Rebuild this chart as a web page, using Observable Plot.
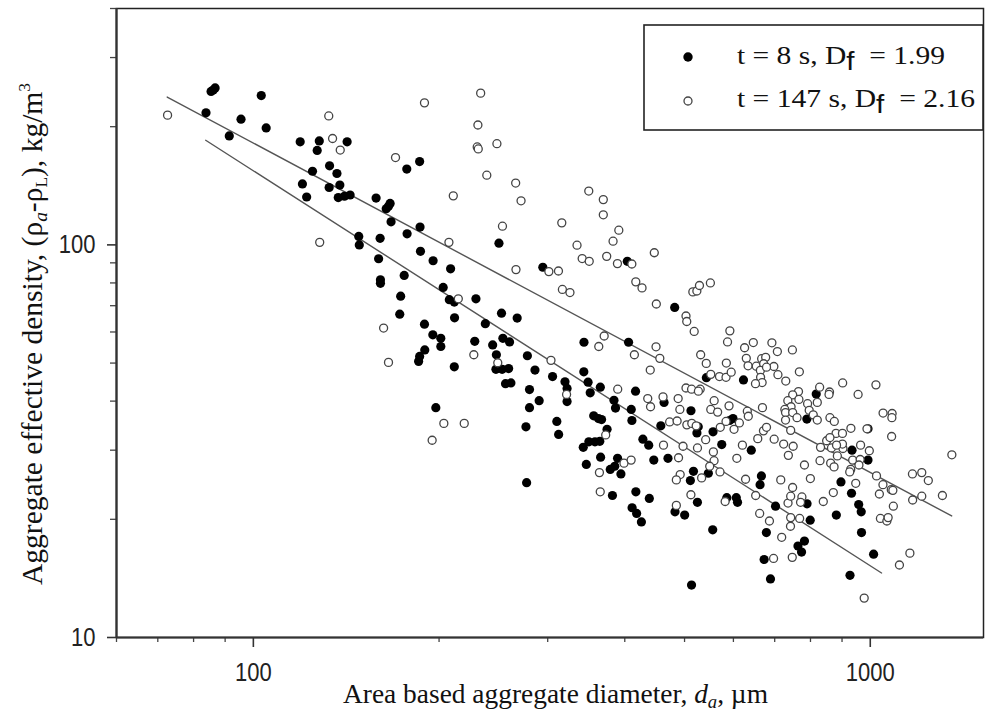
<!DOCTYPE html>
<html><head><meta charset="utf-8">
<script src="https://cdn.jsdelivr.net/npm/d3@7"></script>
<script src="https://cdn.jsdelivr.net/npm/@observablehq/plot@0.6"></script>
<style>
body{margin:0;background:#fff;}
#chart{width:985px;height:713px;}
</style></head><body><div id="chart"></div>
<script>
// t = 8 s (filled)
const t8Diameter = [83.8,85.4,86.1,86.7,91.4,95.5,103,104.9,119.1,127.9,
126.9,141.9,177.3,186,124.7,132.9,136.6,120.1,122,132.7,
138.1,137.3,140.5,143.5,158.1,164.2,165.6,166.6,167.2,186.3,
177.5,186.6,148.2,148.5,160.5,159.6,160.7,160.7,175.6,173.3,
172.7,189.4,195.6,208.8,203.1,207.8,211.7,229.5,211.9,252.5,
267.7,237.7,195.4,201.3,201.3,228.5,253.8,260.2,343.5,405.7,
189.6,186,185.3,211.7,244.3,247.7,247.3,253.1,259.3,256.3,
261.5,278.1,286.1,305.5,280.3,290.6,280.3,197.6,276.6,310.4,
312.5,277.3,343.3,320,322.5,348.8,351.6,365.1,416.4,384.2,
386.4,409.8,410.8,356.2,362.6,366.8,374.4,342.6,349.8,357.9,
364.4,346.5,365.5,389.4,385.3,378.9,394.3,382,416.9,438.4,
411.1,418.1,425.6,428,437.4,445.8,470,463.2,457.6,542.4,
623,512.1,526.2,523.6,556.1,591.4,599.1,574.5,641.4,516.9,
511,546.4,666.1,662.8,482.5,500.2,524.6,585.4,606.5,609.3,
702.2,555.4,678.6,672.9,689.1,513.2,817.3,789.3,934.1,991.6,
896.4,932.4,789.8,957.7,966.8,881,799.1,967.9,782.2,763.5,
773.8,1012.5,927.2,991.6,322.5,250.1,294.6,403.8,481.9];
const t8Density = [217,246,248,251,189.5,209,240,198.6,183,184,
174,183,156,163,154,159,152,143,132.4,140,
142,132,133,134,131.6,123.6,125.4,127.5,114.5,111,
106.7,96.3,105.1,100,103.9,92.2,81.5,79.8,83.6,74,
66.6,62.8,91.1,86.9,77.9,72.5,71.5,72.9,65.2,67,
65.1,63,59,57.8,55.1,56.8,57.8,56.6,56.5,56.5,
54,52,50.5,48.9,55.6,52.5,48.2,48.2,48.4,44.3,
44.5,52.2,48,46.2,42.8,40.1,38.5,38.5,34.4,35.5,
32.9,24.8,47.5,44.8,39.9,44.7,42,43.4,42.4,40.2,
38.4,38.1,35.7,36.7,36.1,35.9,33.9,30.5,31.5,31.5,
31.6,27.6,28.8,28.6,27.3,26.8,26.1,23,23.5,22.6,
21.4,20.7,19.7,32,30.9,28.3,28.6,39.7,34.6,45.9,
45.3,37.8,34.4,33.2,33.4,35.7,36.1,31,30,26.5,
25.1,26.2,25.8,24.5,20.9,20.5,22.1,22.7,22.7,22.1,
21.6,18.8,18.5,15.8,14.1,13.6,41.7,36,30,28.3,
24.9,23.3,21.9,21.8,20.9,20.5,19.9,18.5,17.6,17.1,
16.5,16.3,14.4,34,43.1,101,87.7,90.8,69.3];

// t = 147 s (open)
const t147Diameter = [72.6,132.5,134.4,138.3,170,128.1,162.6,189.4,233.6,231.2,
230.6,231.5,248.2,239,266.2,271.6,210.9,349.7,369.2,369.2,
391.2,382.9,316.2,334.7,253.4,207.5,266.5,301.3,312.3,341.2,
350.3,373.9,389.2,410.7,316.9,326,416.8,426.6,446.6,450,
502.7,504.1,518.3,515.7,523.5,528.6,550.6,214.9,370.4,165.6,
227.7,249,303.7,203.6,219.7,194.9,363,414.6,389.6,321.9,
372.5,398.8,409.6,363.9,365,449.5,455.9,439.9,592.1,587,
531,542.2,584.4,625.6,646.3,692.7,707,629.6,633.8,653.5,
666.7,676.8,671.7,697.8,663.6,664.1,667.9,651.5,708.5,729.5,
747.8,767.5,551.4,569.6,583.7,595.1,502.7,513.3,530,526.5,
435.8,440.4,461.4,488.2,491.3,558.4,551.4,565.7,590.3,632,
634.3,668.7,583.7,601.4,571.3,613.5,472.9,486.3,504.3,513.7,
541,497.2,488.9,462.2,524.7,556.8,558.2,549.2,570.7,607.7,620.5,
491.9,484.9,532.9,627.9,657.1,671.2,678.9,698.6,723.8,750,
736.6,716,484.9,512,581.8,652,735.7,743,748.4,774.8,
770.9,661.8,686.4,718.5,697,743,768.3,742.5,747.4,839.2,
871.2,947.2,1038.6,1064,1069,1090,1048.5,1081.6,1088,1034.6,
1170.5,1212,1242,1171.4,1212,1309,1356,1159.4,1115,977.6,
830.6,829,862.6,873.6,884.4,903.1,964.5,996.5,936.4,963,
958.6,929.6,926.2,782.2,799.7,1023.6,880.1,901.4,930.3,849.7,
860.3,987.8,1085,1049,1083,1084,901.4,865.2,881.7,902.1,
1021.4,955.6,827.8,858.9,857.3,765,748.6,735.1,744.1,727,
728.9,728.9,748.6,760.8,766.2,791.4,796.2,808.3,820.6,820.6,
860.3,874.4,743,678.9,522.2];
const t147Density = [214,213,186.6,174.4,166.9,101.5,61.4,230,243.5,202,
177.6,175.5,181,150.5,143.7,129.5,133.3,137.1,130.4,119.3,
109,102.2,113.8,99.8,111.6,101.5,86.5,85.5,85.8,92.3,
90.8,93.5,89.6,89.4,77,75.6,80.5,77.7,95.5,70.7,
65.9,63.8,60.2,75.9,76.3,78.8,80,72.9,58.6,50.2,
52.5,50.1,50.8,35.1,35.1,31.8,55.1,52.5,42.9,41.6,
32.8,27.8,28.3,26.3,23.5,55,51.4,48,60.4,56.6,
52.5,49.9,50,54.7,56.4,56.3,53.5,51.4,49.2,49.1,
51.3,51.7,49.8,49,47.9,46,44.6,44.3,46.7,45,
54,47.5,46.8,46.2,46,47.4,43.2,42.9,42.9,42.4,
40.6,38.7,41,40.6,38.1,40.1,38.1,37.5,38.9,37.7,
36.6,38.5,35.5,33.9,34.3,35.2,35.4,35.6,34.8,35.1,
31.9,30.7,28.7,30.9,30.4,29.7,28.2,27.3,26.4,28.6,30.9,
26,25.2,25.5,25.3,32.1,33.6,34.3,32,31.1,30.7,
29.1,25.2,21.7,23.1,22.2,23,22,22.9,24.1,22.8,
22.1,20.7,19.8,18,15.9,20.2,20.1,19.2,16,22.2,
23.4,24.7,20.1,19.8,20.2,21.6,24.5,23.8,23.7,23.2,
26.1,26.3,25.1,22.4,22.9,23,29.2,16.4,15.3,12.6,
30.5,28.2,27.8,27.2,29,30.3,30.9,29.9,28.3,28.4,
27.5,26.8,26.4,27.5,25.4,25.8,33.1,33.1,34.1,31.7,
32.3,34,37.2,37.3,32.5,36.3,31.1,30.4,30.9,44.5,
44,41.6,43.4,42.2,41.6,42.3,41.5,40.1,38.7,38.1,
37.4,35.8,37.4,36.3,40.4,39.4,37.9,36.9,39.7,35.8,
36.3,35.5,33.7,48.8,34.6];

// power-law fit lines (end points)
const fit8Diameter = [83.7, 1043];
const fit8Density = [184.7, 14.6];
const fit147Diameter = [72.5, 1355];
const fit147Density = [238, 20.4];

// ticks
const xMajorTicks = [100, 1000];
const xMinorTicks = [60, 70, 80, 90, 200, 300, 400, 500, 600, 700, 800, 900];
const yMajorTicks = [10, 100];
const yMinorTicks = [20, 30, 40, 50, 60, 70, 80, 90, 200, 300, 400];

const legendLabels = ["t = 8 s, D", "t = 147 s, D"];
const legendValues = ["= 1.99", "= 2.16"];

const filled = t8Diameter.map((d, i) => ({d, rho: t8Density[i]}));
const open = t147Diameter.map((d, i) => ({d, rho: t147Density[i]}));
const fit8 = fit8Diameter.map((d, i) => ({d, rho: fit8Density[i]}));
const fit147 = fit147Diameter.map((d, i) => ({d, rho: fit147Density[i]}));

const tickFont = "'Liberation Sans',Arial,sans-serif";
const serif = "'Liberation Serif','Times New Roman',serif";

const plot = Plot.plot({
  width: 985, height: 713,
  marginLeft: 116, marginRight: 2, marginTop: 8, marginBottom: 76,
  style: {background: "#fff", fontFamily: tickFont, color: "#222"},
  x: {type: "log", domain: [60, 1526]},
  y: {type: "log", domain: [10, 400]},
  marks: [
    Plot.frame({stroke: "#222", strokeWidth: 1.5}),
    Plot.axisX({ticks: xMinorTicks, tickSize: 5, tickFormat: () => "", label: null, stroke: "#444", strokeWidth: 1.3}),
    Plot.axisX({ticks: xMajorTicks, tickSize: 10, tickPadding: 16, tickFormat: d => String(d), label: null, fontSize: 25, fill: "#222", stroke: "#333", strokeWidth: 1.6}),
    Plot.axisY({ticks: yMinorTicks, tickSize: 6, tickFormat: () => "", label: null, stroke: "#444", strokeWidth: 1.3}),
    Plot.axisY({ticks: yMajorTicks, tickSize: 9, tickPadding: 12, tickFormat: d => String(d), label: null, fontSize: 25, textAnchor: "end", fill: "#222", stroke: "#333", strokeWidth: 1.6}),
    Plot.ruleY([10], {stroke: "#333", strokeWidth: 2.2}),
    Plot.ruleX([60], {stroke: "#333", strokeWidth: 2.2}),
    Plot.line(fit147, {x: "d", y: "rho", stroke: "#555", strokeWidth: 1.4}),
    Plot.line(fit8, {x: "d", y: "rho", stroke: "#555", strokeWidth: 1.4}),
    Plot.dot(filled, {x: "d", y: "rho", r: 4.6, fill: "#000", stroke: null}),
    Plot.dot(open, {x: "d", y: "rho", r: 4, fill: "#fff", stroke: "#444", strokeWidth: 1.3})
  ]
});

const svg = d3.select(plot);

// condense tick label glyphs horizontally (narrow sans look of the original)
svg.selectAll("text").each(function () {
  const t = d3.select(this);
  const s = t.text();
  if (s === "100" || s === "10" || s === "1000") {
    const x = +t.attr("x") || 0;
    const tr = t.attr("transform") || "";
    t.attr("stroke", "none");
    t.attr("transform", `${tr} translate(${x},0) scale(0.88,1) translate(${-x},0)`);
  }
});

// X axis title
const xt = svg.append("text").attr("x", 343).attr("y", 703)
  .attr("text-anchor", "start")
  .attr("textLength", 425).attr("lengthAdjust", "spacingAndGlyphs")
  .attr("font-family", serif).attr("font-size", 26.5).attr("fill", "#111");
xt.append("tspan").text("Area based aggregate diameter, ");
xt.append("tspan").attr("font-style", "italic").text("d");
xt.append("tspan").attr("font-style", "italic").attr("font-size", 18).attr("dy", 5).text("a");
xt.append("tspan").attr("dy", -5).text(", µm");

// Y axis title
const yt = svg.append("text").attr("transform", "translate(41.7,585) rotate(-90)")
  .attr("text-anchor", "start")
  .attr("textLength", 502).attr("lengthAdjust", "spacingAndGlyphs")
  .attr("font-family", serif).attr("font-size", 29).attr("fill", "#111");
yt.append("tspan").text("Aggregate effective density, (ρ");
yt.append("tspan").attr("font-style", "italic").attr("font-size", 19).attr("dy", 5).text("a");
yt.append("tspan").attr("dy", -5).text("-ρ");
yt.append("tspan").attr("font-size", 17).attr("dy", 5).text("L");
yt.append("tspan").attr("dy", -5).text("), kg/m");
yt.append("tspan").attr("font-size", 17).attr("dy", -12).text("3");

// Legend
const lg = svg.append("g");
lg.append("rect").attr("x", 644).attr("y", 25).attr("width", 339).attr("height", 105)
  .attr("fill", "#fff").attr("stroke", "#222").attr("stroke-width", 1.6);
lg.append("circle").attr("cx", 688).attr("cy", 57).attr("r", 4.7).attr("fill", "#000");
lg.append("circle").attr("cx", 688).attr("cy", 101).attr("r", 4).attr("fill", "#fff").attr("stroke", "#444").attr("stroke-width", 1.3);
const legendLengths = [208, 238];
[63.5, 106.5].forEach((yb, i) => {
  const t = lg.append("text").attr("x", 737).attr("y", yb)
    .attr("text-anchor", "start")
    .attr("textLength", legendLengths[i]).attr("lengthAdjust", "spacingAndGlyphs")
    .attr("font-family", serif).attr("font-size", 25).attr("fill", "#111");
  t.append("tspan").text(legendLabels[i]);
  t.append("tspan").attr("font-family", "'Liberation Sans',Arial,sans-serif").attr("font-size", 25).attr("dy", 6.5).text("f");
  t.append("tspan").attr("dy", -6.5).text("\u2002" + legendValues[i]);
});

document.getElementById("chart").appendChild(plot);
</script>
</body></html>
